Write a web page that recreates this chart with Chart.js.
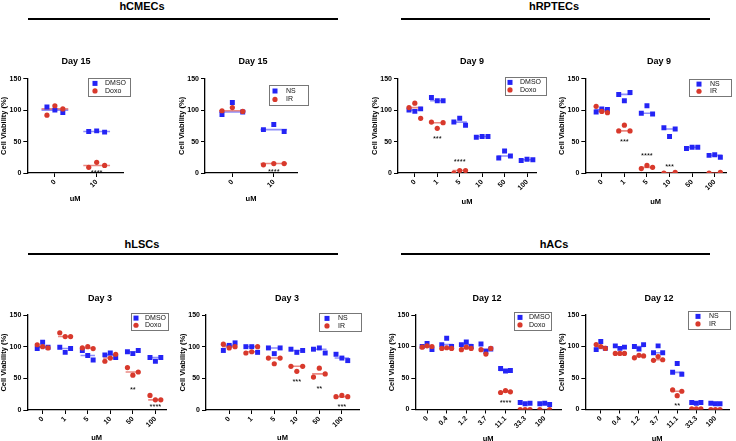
<!DOCTYPE html>
<html>
<head>
<meta charset="utf-8">
<script src="https://cdn.jsdelivr.net/npm/chart.js@4.4.1/dist/chart.umd.min.js"></script>
<style>
body{margin:0;width:736px;height:441px;overflow:hidden;background:#fff;position:relative;font-family:"Liberation Sans",Arial,sans-serif}
canvas{position:absolute}
.group{position:absolute;font-weight:bold;font-size:11px;transform:translate(-50%,-50%);white-space:nowrap}
.bar{position:absolute;height:2px;background:#000}
</style>
</head>
<body>
<div class="group" style="left:142px;top:6px">hCMECs</div>
<div class="bar" style="left:28px;top:18px;width:310px"></div>
<div class="group" style="left:554px;top:6px">hRPTECs</div>
<div class="bar" style="left:401px;top:18px;width:309px"></div>
<div class="group" style="left:142px;top:244px">hLSCs</div>
<div class="bar" style="left:28px;top:253px;width:310px"></div>
<div class="group" style="left:554px;top:244px">hACs</div>
<div class="bar" style="left:401px;top:253px;width:309px"></div>

<script>
// hCMECs, day 15
const cmecDoses = ['0', '10'];
const cmecDmso = [[105, 100, 96], [66, 67, 65]];
const cmecDoxo = [[92, 107, 102], [9, 17, 12]];
const cmecDoxoStars = ['', '****'];
const cmecDoxoStarLevel = [null, 3];
const cmecNs = [[93, 112, 97], [69, 77, 66]];
const cmecIr = [[99, 104, 98], [13, 15, 15]];
const cmecIrStars = ['', '****'];
const cmecIrStarLevel = [null, 5];

// hRPTECs, day 9
const rptecDoses = ['0', '1', '5', '10', '50', '100'];
const rptecDmso = [[100, 98, 102], [120, 115, 115], [81, 87, 76], [57, 58, 58], [24, 35, 27], [20, 22, 21]];
const rptecDoxo = [[104, 111, 87], [81, 71, 80], [0, 4, 4], [], [], []];
const rptecDoxoStars = ['', '***', '****', '', '', ''];
const rptecDoxoStarLevel = [null, 57, 20, null, null, null];
const rptecNs = [[97, 102, 101], [125, 115, 128], [95, 107, 94], [72, 58, 70], [39, 41, 41], [28, 29, 25]];
const rptecIr = [[106, 98, 96], [67, 76, 67], [7, 12, 9], [0, 1], [], [0, 1]];
const rptecIrStars = ['', '***', '****', '***', '', ''];
const rptecIrStarLevel = [null, 52, 30, 13, null, null];

// hLSCs, day 3
const lscDoses = ['0', '1', '5', '10', '50', '100'];
const lscDmso = [[97, 107, 99], [99, 91, 97], [94, 86, 79], [87, 90, 83], [92, 89, 94], [83, 77, 83]];
const lscDoxo = [[103, 100, 98], [122, 116, 116], [98, 100, 97], [77, 82, 88], [67, 55, 60], [23, 16, 16]];
const lscDoxoStars = ['', '', '', '', '**', '****'];
const lscDoxoStarLevel = [null, null, null, null, 34, 8];
const lscNs = [[94, 102, 106], [100, 100, 91], [98, 89, 98], [96, 91, 94], [96, 98, 90], [88, 82, 78]];
const lscIr = [[104, 98, 100], [90, 92, 100], [82, 73, 82], [69, 61, 69], [52, 66, 57], [21, 23, 21]];
const lscIrStars = ['', '', '', '***', '**', '***'];
const lscIrStarLevel = [null, null, null, 47, 37, 8];

// hACs, day 12
const acDoses = ['0', '0.4', '1.2', '3.7', '11.1', '33.3', '100'];
const acDmso = [[100, 105, 95], [103, 113, 100], [103, 107, 100], [104, 92, 96], [65, 61, 62], [11, 9, 10], [9, 10, 8]];
const acDoxo = [[99, 101, 100], [97, 98, 97], [95, 99, 97], [95, 88, 97], [27, 30, 28], [0, 0, 0], [0, 0]];
const acDoxoStars = ['', '', '', '', '****', '', ''];
const acDoxoStarLevel = [null, null, null, null, 13, null, null];
const acNs = [[95, 108, 97], [101, 97, 99], [100, 96, 103], [90, 101, 90], [59, 73, 56], [11, 10, 11], [10, 9, 9]];
const acIr = [[103, 100, 97], [89, 89, 89], [82, 86, 85], [78, 84, 79], [31, 22, 29], [1, 1, 1], [0, 0, 0]];
const acIrStars = ['', '', '', '', '**', '', ''];
const acIrStarLevel = [null, null, null, null, 9, null, null];

const BLUE = '#2424f5';
const RED = '#d8392c';
const FONT = '"Liberation Sans", Arial, sans-serif';

const panels = [
    {day: 'Day 15', doses: cmecDoses, blue: cmecDmso, red: cmecDoxo, stars: cmecDoxoStars, starAt: cmecDoxoStarLevel, names: ['DMSO', 'Doxo'],
     axisX: 27.3, plotRight: 123, yTop: 78.7, yBottom: 172.7, xMin: -0.66, xMax: 1.63, jitter: 0.19, xAxisH: 30,
     titleAt: [76, 62], legend: [88, 78, 42, 18, 7, 17]},
    {day: 'Day 15', doses: cmecDoses, blue: cmecNs, red: cmecIr, stars: cmecIrStars, starAt: cmecIrStarLevel, names: ['NS', 'IR'],
     axisX: 205, plotRight: 297, yTop: 78.7, yBottom: 172.7, xMin: -0.66, xMax: 1.56, jitter: 0.25, xAxisH: 30,
     titleAt: [253, 62], legend: [269, 85, 39, 20, 6, 17]},
    {day: 'Day 9', doses: rptecDoses, blue: rptecDmso, red: rptecDoxo, stars: rptecDoxoStars, starAt: rptecDoxoStarLevel, names: ['DMSO', 'Doxo'],
     axisX: 398, plotRight: 536, yTop: 78.7, yBottom: 172.7, xMin: -0.75, xMax: 5.4, jitter: 0.26, xAxisH: 33,
     titleAt: [472, 62], legend: [505, 77, 41, 18, 5, 15]},
    {day: 'Day 9', doses: rptecDoses, blue: rptecNs, red: rptecIr, stars: rptecIrStars, starAt: rptecIrStarLevel, names: ['NS', 'IR'],
     axisX: 585.3, plotRight: 726, yTop: 78.7, yBottom: 172.7, xMin: -0.73, xMax: 5.5, jitter: 0.25, xAxisH: 33,
     titleAt: [659, 62], legend: [689, 79, 42, 17, 10, 21]},
    {day: 'Day 3', doses: lscDoses, blue: lscDmso, red: lscDoxo, stars: lscDoxoStars, starAt: lscDoxoStarLevel, names: ['DMSO', 'Doxo'],
     axisX: 27.3, plotRight: 166.7, yTop: 315, yBottom: 409.3, xMin: -0.68, xMax: 5.47, jitter: 0.24, xAxisH: 32,
     titleAt: [100, 299], legend: [131, 313, 37, 17, 5, 14]},
    {day: 'Day 3', doses: lscDoses, blue: lscNs, red: lscIr, stars: lscIrStars, starAt: lscIrStarLevel, names: ['NS', 'IR'],
     axisX: 206, plotRight: 360, yTop: 315, yBottom: 409.3, xMin: -1.03, xMax: 5.76, jitter: 0.26, xAxisH: 32,
     titleAt: [287, 299], legend: [319, 313, 42, 18, 8, 19]},
    {day: 'Day 12', doses: acDoses, blue: acDmso, red: acDoxo, stars: acDoxoStars, starAt: acDoxoStarLevel, names: ['DMSO', 'Doxo'],
     axisX: 415.3, plotRight: 562.7, yTop: 315, yBottom: 409.3, xMin: -0.6, xMax: 6.83, jitter: 0.25, xAxisH: 33.5,
     titleAt: [487, 299], legend: [514, 312, 37, 18, 6, 15]},
    {day: 'Day 12', doses: acDoses, blue: acNs, red: acIr, stars: acIrStars, starAt: acIrStarLevel, names: ['NS', 'IR'],
     axisX: 585.3, plotRight: 731, yTop: 315, yBottom: 409.3, xMin: -0.81, xMax: 6.71, jitter: 0.24, xAxisH: 33.5,
     titleAt: [659, 299], legend: [688, 311, 42, 18, 10, 21]}
];


function median(vals){
    const s = vals.slice().sort((a, b) => a - b);
    const m = Math.floor(s.length / 2);
    return s.length % 2 ? s[m] : (s[m - 1] + s[m]) / 2;
};


function spreadPoints(groups, jitter){
    let pts = [];
    groups.forEach((vals, i) => {
        const n = vals.length;
        vals.forEach((v, k) => {
            const off = n > 1 ? -jitter + 2 * jitter * k / (n - 1) : 0;
            pts.push({x: i + off, y: v});
        });
    });
    return pts;
};


function medianSegments(groups){
    let pts = [];
    groups.forEach((vals, i) => {
        if(vals.length === 0) return;
        const m = median(vals);
        pts.push({x: i - 0.32, y: m}, {x: i + 0.32, y: m}, {x: i + 0.5, y: null});
    });
    return pts;
};


function makeDecor(p, left, top){
    return {
        id: 'decor',
        afterDatasetsDraw(chart){
            const ctx = chart.ctx;
            const xs = chart.scales.x;
            const ys = chart.scales.y;
            ctx.save();
            ctx.fillStyle = '#000';
            ctx.textAlign = 'center';
            ctx.textBaseline = 'middle';
            ctx.font = 'bold 9px ' + FONT;
            ctx.fillText(p.day, p.titleAt[0] - left, p.titleAt[1] - top);

            ctx.font = '7.5px ' + FONT;
            ctx.textBaseline = 'alphabetic';
            p.stars.forEach((s, i) => {
                if(s) ctx.fillText(s, xs.getPixelForValue(i), ys.getPixelForValue(p.starAt[i]) + 4);
            });

            const [bx, by, bw, bh, mx, tx] = p.legend;
            const x0 = bx - left, y0 = by - top;
            ctx.fillStyle = '#fff';
            ctx.fillRect(x0, y0, bw, bh);
            ctx.strokeStyle = '#777';
            ctx.lineWidth = 1;
            ctx.strokeRect(x0 + 0.5, y0 + 0.5, bw, bh);
            const rows = [y0 + bh * 0.3, y0 + bh * 0.72];
            ctx.fillStyle = BLUE;
            ctx.fillRect(x0 + mx - 2.5, rows[0] - 2.5, 5, 5);
            ctx.fillStyle = RED;
            ctx.beginPath();
            ctx.arc(x0 + mx, rows[1], 2.6, 0, Math.PI * 2);
            ctx.fill();
            ctx.fillStyle = '#111';
            ctx.font = '7px ' + FONT;
            ctx.textAlign = 'left';
            ctx.textBaseline = 'middle';
            ctx.fillText(p.names[0], x0 + tx, rows[0]);
            ctx.fillText(p.names[1], x0 + tx, rows[1]);
            ctx.restore();
        }
    };
};


function buildPanel(p){
    const left = Math.round(p.axisX - 30);
    const top = Math.round(p.yTop - 30);
    const right = Math.max(p.plotRight, p.legend[0] + p.legend[2]) + 2;
    const width = Math.ceil(right - left);
    const height = Math.ceil(p.yBottom + p.xAxisH - top);

    const canvas = document.createElement('canvas');
    canvas.width = width;
    canvas.height = height;
    canvas.style.left = left + 'px';
    canvas.style.top = top + 'px';
    canvas.style.width = width + 'px';
    canvas.style.height = height + 'px';
    document.body.appendChild(canvas);

    const axisFont = {family: FONT, size: 7, weight: 'bold'};
    const titleFont = {family: FONT, size: 7.5, weight: 'bold'};

    new Chart(canvas.getContext('2d'), {
        type: 'scatter',
        data: {
            datasets: [
                {data: spreadPoints(p.red, p.jitter), pointStyle: 'circle', pointRadius: 2.6,
                 backgroundColor: RED, borderWidth: 0, order: 0},
                {data: spreadPoints(p.blue, p.jitter), pointStyle: 'rect', pointRadius: 3.5,
                 backgroundColor: BLUE, borderWidth: 0, order: 1},
                {data: medianSegments(p.red), showLine: true, spanGaps: false, pointRadius: 0,
                 borderColor: 'rgba(220,60,50,0.6)', borderWidth: 1.6, order: 2},
                {data: medianSegments(p.blue), showLine: true, spanGaps: false, pointRadius: 0,
                 borderColor: 'rgba(50,50,245,0.55)', borderWidth: 1.6, order: 3}
            ]
        },
        options: {
            responsive: false,
            animation: false,
            devicePixelRatio: 1,
            layout: {
                padding: {top: p.yTop - top, right: width - (p.plotRight - left), bottom: 0, left: 0}
            },
            scales: {
                x: {
                    type: 'linear',
                    bounds: 'data',
                    min: p.xMin,
                    max: p.xMax,
                    afterBuildTicks: s => { s.ticks = p.doses.map((d, i) => ({value: i})); },
                    afterFit: s => { s.height = p.xAxisH; },
                    ticks: {
                        callback: v => p.doses[v],
                        autoSkip: false,
                        minRotation: 45,
                        maxRotation: 45,
                        padding: 1,
                        color: '#000',
                        font: axisFont
                    },
                    grid: {drawOnChartArea: false, color: '#000', tickLength: 4, lineWidth: 1},
                    border: {color: '#000', width: 1.3},
                    title: {display: true, text: 'uM', color: '#000', font: titleFont, padding: 0}
                },
                y: {
                    min: 0,
                    max: 150,
                    afterFit: s => { s.width = p.axisX - left; },
                    ticks: {stepSize: 50, padding: 2, color: '#000', font: axisFont},
                    grid: {drawOnChartArea: false, color: '#000', tickLength: 4, lineWidth: 1},
                    border: {color: '#000', width: 1.3},
                    title: {display: true, text: 'Cell Viability (%)', color: '#000', font: titleFont, padding: {top: 2, bottom: 0}}
                }
            },
            plugins: {
                legend: {display: false},
                tooltip: {enabled: false}
            }
        },
        plugins: [makeDecor(p, left, top)]
    });
};


panels.forEach(buildPanel);
</script>
</body>
</html>
